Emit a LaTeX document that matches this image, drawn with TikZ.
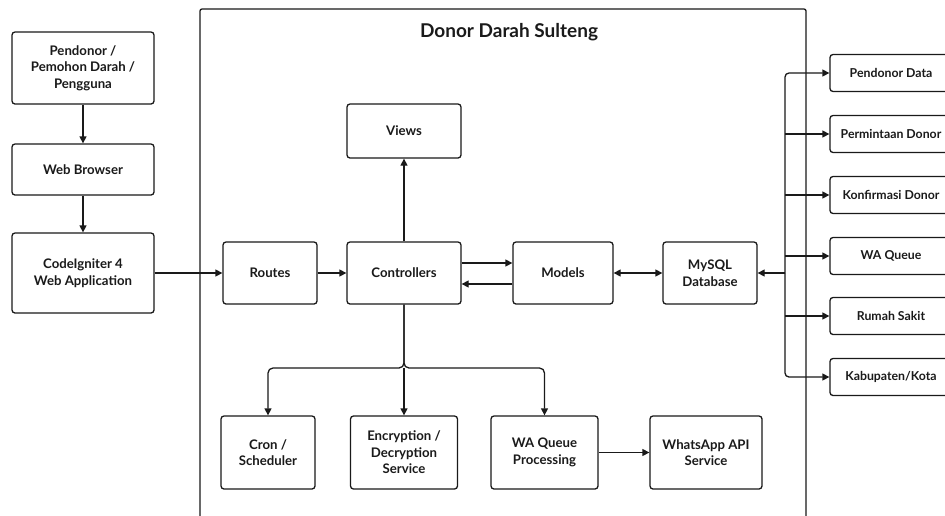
\documentclass[tikz,border=0pt]{standalone}
\usepackage{fontspec}
\setmainfont{Lato}
\usetikzlibrary{arrows.meta}
\definecolor{ink}{HTML}{1A1A1A}
\begin{document}
\begin{tikzpicture}[x=1pt,y=-1pt,
  box/.style={draw=ink, line width=1.3pt, rounded corners=3pt, fill=white, align=center, inner sep=0pt,
    text=ink, font=\bfseries\fontsize{13.2}{16.5}\selectfont},
  sbox/.style={box, minimum width=122pt, minimum height=37pt, font=\bfseries\fontsize{12.3}{14}\selectfont},
  conn/.style={draw=ink, line width=1.3pt, -{Triangle[length=7pt,width=7pt]}},
  wire/.style={draw=ink, line width=1.3pt},
]
\useasboundingbox (0,0) rectangle (945,515);
\clip (0,0) rectangle (945,515);
\fill[white] (0,0) rectangle (945,515);

% frame
\draw[wire, rounded corners=2pt] (200,9) rectangle (806,560);
\node[text=ink, font=\bfseries\fontsize{19}{22}\selectfont] (title) at (509,32) {Donor Darah Sulteng};

% left column
\node[box, minimum width=142pt, minimum height=72pt] (user) at (83,68) {Pendonor /\\Pemohon Darah /\\Pengguna};
\node[box, minimum width=142pt, minimum height=51pt] (browser) at (83,169.5) {Web Browser};
\node[box, minimum width=142pt, minimum height=80pt] (ci) at (83,273) {CodeIgniter 4\\Web Application};

% middle row
\node[box, minimum width=94pt, minimum height=62pt] (routes) at (270,273) {Routes};
\node[box, minimum width=114pt, minimum height=62pt] (ctrl) at (404,273) {Controllers};
\node[box, minimum width=114pt, minimum height=54pt] (views) at (404,131) {Views};
\node[box, minimum width=100pt, minimum height=62pt] (models) at (563,273) {Models};
\node[box, minimum width=94pt, minimum height=62pt] (mysql) at (710,273) {MySQL\\Database};

% bottom row
\node[box, minimum width=94pt, minimum height=73pt] (cron) at (268,452.5) {Cron /\\Scheduler};
\node[box, minimum width=107pt, minimum height=73pt] (enc) at (404,452.5) {Encryption /\\Decryption\\Service};
\node[box, minimum width=107pt, minimum height=73pt] (waq) at (544.5,452.5) {WA Queue\\Processing};
\node[box, minimum width=112pt, minimum height=73pt] (waapi) at (706,452.5) {WhatsApp API\\Service};

% right column (tables)
\node[sbox] (pd) at (891,73) {Pendonor Data};
\node[sbox] (pr) at (891,134) {Permintaan Donor};
\node[sbox] (kd) at (891,195) {Konfirmasi Donor};
\node[sbox] (wq) at (891,256) {WA Queue};
\node[sbox] (rs) at (891,316) {Rumah Sakit};
\node[sbox] (kab) at (891,377) {Kabupaten/Kota};

% connectors
\draw[conn] (user) -- (browser);
\draw[conn] (browser) -- (ci);
\draw[conn] (ci) -- (routes);
\draw[conn] (routes) -- (ctrl);
\draw[conn] (ctrl) -- (views);
\draw[conn] ([yshift=10pt]ctrl.east) -- ([yshift=10pt]models.west);
\draw[conn] ([yshift=-11pt]models.west) -- ([yshift=-11pt]ctrl.east);
\draw[wire, {Triangle[length=7pt,width=7pt]}-{Triangle[length=7pt,width=7pt]}] (models) -- (mysql);

% bus to tables
\coordinate (bus) at (785,273);
\draw[conn] (bus) -- (mysql.east);
\draw[conn, rounded corners=4pt] (bus) |- (pd.west);
\draw[conn, rounded corners=4pt] (bus) |- (kab.west);
\draw[conn] (bus |- pr) -- (pr.west);
\draw[conn] (bus |- kd) -- (kd.west);
\draw[conn] (bus |- wq) -- (wq.west);
\draw[conn] (bus |- rs) -- (rs.west);

% controllers to services
\coordinate (jn) at (404,368);
\draw[conn, rounded corners=5pt] (ctrl.south) -- (jn) -| (cron.north);
\draw[conn, rounded corners=5pt] (ctrl.south) -- (jn) -| (waq.north);
\draw[conn] (jn) -- (enc.north);
\draw[conn] (waq) -- (waapi);
\end{tikzpicture}
\end{document}
